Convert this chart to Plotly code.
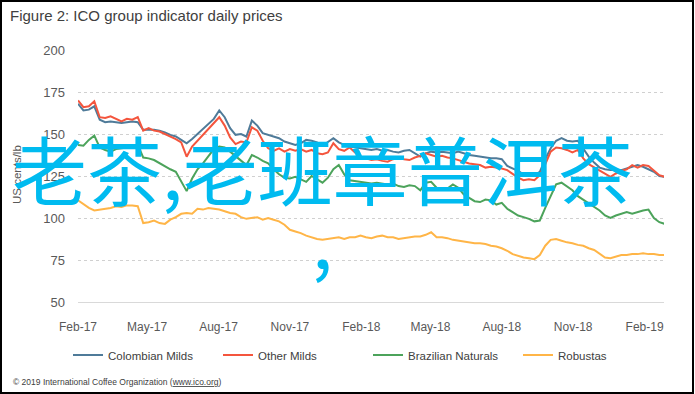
import pandas as pd
import plotly.graph_objects as go

# Weekly sample dates (Feb 2017 - Feb 2019)
dates = pd.date_range("2017-02-01", periods=109, freq="7D")

colombian_milds = [
    168, 164, 164.5, 166.5, 158.5, 157, 157.5, 157, 156.5, 157, 157.5, 157,
    152.5, 152.5, 152.5, 152, 151, 149.5, 148.5, 146.5, 144.5, 147, 150, 153,
    155.5, 159, 164, 160, 153.5, 149.5, 150, 148.5, 158, 155, 150.5, 149.5,
    148.5, 147.5, 145.5, 144.5, 143.5, 144.5, 146.5, 146, 145, 143, 145.5, 147.5,
    145, 143.5, 142.5, 142, 141.5, 141, 140.5, 141, 140, 140.5, 139.5, 139,
    140, 140.5, 138.5, 136.5, 138.5, 139.5, 139, 139.5, 139, 138.5, 139.5, 138.5,
    137.5, 137, 136.5, 136, 135.5, 135.5, 135, 131, 129.5, 128, 126, 125.5,
    125.5, 127.5, 135, 141.5, 146, 147.5, 146, 145.5, 146, 141, 136.5, 133,
    130, 129, 128.5, 128.5, 128.5, 129.5, 130.5, 131.5, 130.5, 129, 127.5, 125,
    124.5,
]

other_milds = [
    170, 166, 166.5, 169.5, 160, 159.5, 160.5, 159, 157.5, 159, 158.5, 160,
    152, 153.5, 152, 151.5, 150, 148.5, 147, 145, 136.5, 142.5, 146, 150,
    153.5, 156.5, 160, 155, 148, 144, 145.5, 145, 154, 152, 146, 141.5,
    140, 141.5, 139.5, 141, 140, 141, 139.5, 140.5, 138.5, 138, 139, 144.5,
    141, 140, 142, 139, 136.5, 135.5, 134.5, 135, 134, 133.5, 135, 136,
    135, 134.5, 136, 137, 138.5, 137.5, 136.5, 137, 136, 135.5, 134.5, 133.5,
    132.5, 132, 131.5, 130, 130.5, 130, 129.5, 128.5, 126, 124, 122.5, 123,
    122.5, 125.5, 132, 139.5, 142, 141.5, 140.5, 139, 140.5, 135.5, 132, 130,
    128.5, 126, 124.5, 126.5, 128, 129, 131.5, 130, 131.5, 131, 128, 125.5,
    124.5,
]

brazilian_naturals = [
    143.5, 143, 146.5, 149, 142, 140.5, 139.5, 141, 141.5, 142, 143, 143.5,
    136, 135.5, 134.5, 132.5, 130.5, 129, 127.5, 122, 116, 123.5, 129, 132.5,
    137, 141, 142.5, 142, 139.5, 137, 134.5, 131.5, 137.5, 136, 134, 132.5,
    129, 126, 124, 123.5, 124.5, 123, 121.5, 125, 123, 121, 124, 129,
    131.5, 126, 122.5, 122, 121.5, 121, 120.5, 121, 120.5, 120, 120.5, 119,
    118.5, 119.5, 119, 116.5, 121, 121.5, 118, 117, 117.5, 120, 118, 114,
    112, 110, 109.5, 111, 110.5, 108, 109, 105.5, 103.5, 101.5, 100.5, 99.5,
    98, 98.5, 106, 113, 120, 121, 119, 116.5, 113, 111, 109, 107,
    104.5, 101.5, 100, 101.5, 102.5, 103.5, 102.5, 103.5, 104.5, 105, 100, 97.5,
    96.5,
]

robustas = [
    110.5, 108, 106, 104.5, 105, 105.5, 106, 107, 106.5, 107.5, 107.5, 107,
    97, 97.5, 98.5, 97, 96.5, 99, 100.5, 102.5, 103, 102.5, 105.5, 105,
    106, 105.5, 105, 104, 103, 102.5, 100.5, 99.5, 100, 100.5, 99, 100,
    99, 98, 96, 93, 92, 91, 89.5, 88.5, 87.5, 87, 87.5, 88,
    88.5, 87.5, 88.5, 88.5, 89.5, 88.5, 88, 89, 89.5, 88.5, 88.5, 87.5,
    88, 88.5, 89, 89, 90, 91.5, 88.5, 88.5, 88, 87, 86.5, 86,
    85.5, 85, 85, 84.5, 83.5, 83, 82, 80.5, 78.5, 77.5, 76.5, 76,
    75.5, 78, 83.5, 87, 87.5, 86.5, 85.5, 85, 84, 83.5, 82, 81,
    79, 76.5, 76, 77, 78, 78, 78.5, 78.5, 79, 78.5, 78.5, 78,
    78,
]

series_names = ["Colombian Milds", "Other Milds", "Brazilian Naturals", "Robustas"]
series_values = [colombian_milds, other_milds, brazilian_naturals, robustas]
series_colors = ["#4F7B99", "#F4553D", "#4CA35B", "#FFB547"]

y_ticks = [50, 75, 100, 125, 150, 175, 200]
x_ticks = pd.date_range("2017-02-01", "2019-02-01", freq="3MS")
x_tick_labels = [d.strftime("%b-%y") for d in x_ticks]

fig = go.Figure()
for name, vals, col in zip(series_names, series_values, series_colors):
    fig.add_trace(go.Scatter(x=dates, y=vals, name=name, mode="lines",
                             line=dict(color=col, width=2)))

# plot area geometry (pixels) for paper-coordinate conversions
L, R, T, B = 78, 664, 50, 302
W, H = R - L, B - T
def px(x):
    return (x - L) / W
def py(y):
    return (B - y) / H

fig.update_layout(
    width=695, height=394,
    margin=dict(l=L, r=695 - R, t=T, b=394 - B),
    paper_bgcolor="white", plot_bgcolor="white",
    font=dict(family="Liberation Sans", color="#595959", size=11),
    showlegend=True,
    legend=dict(orientation="h", x=px(68), xanchor="left", y=py(355), yanchor="middle",
                font=dict(size=11.5, color="#404040"), entrywidth=105,
                bgcolor="rgba(0,0,0,0)"),
    xaxis=dict(range=["2017-02-01", "2019-02-26"], tickvals=x_ticks, ticktext=x_tick_labels,
               showgrid=False, showline=True, linecolor="#D9D9D9", linewidth=1,
               ticks="", ticklabelstandoff=14, tickfont=dict(size=12, color="#595959"),
               zeroline=False, fixedrange=True),
    yaxis=dict(range=[50, 200], tickvals=y_ticks, showgrid=True, gridcolor="#D0D0D0",
               griddash="dot", gridwidth=1, zeroline=False, showline=False, ticks="",
               ticklabelstandoff=12, tickfont=dict(size=13, color="#595959"),
               fixedrange=True),
    shapes=[dict(type="rect", xref="paper", yref="paper",
                 x0=px(1), x1=px(693), y0=py(393), y1=py(1),
                 line=dict(color="black", width=2), fillcolor="rgba(0,0,0,0)", layer="above")],
    annotations=[
        dict(text="Figure 2: ICO group indicator daily prices", xref="paper", yref="paper",
             x=px(8), y=py(15), xanchor="left", yanchor="middle", showarrow=False,
             font=dict(size=15, color="#404040")),
        dict(text="US cents/lb", xref="paper", yref="paper", x=px(17), y=py(175),
             xanchor="center", yanchor="middle", textangle=-90, showarrow=False,
             font=dict(size=11.5, color="#595959")),
        dict(text="© 2019 International Coffee Organization (<u>www.ico.org</u>)",
             xref="paper", yref="paper", x=px(11), y=py(382), xanchor="left",
             yanchor="middle", showarrow=False, font=dict(size=8.5, color="#404040")),
        dict(text="老茶,老班章普洱茶", xref="paper", yref="paper", x=px(322), y=py(167),
             xanchor="center", yanchor="middle", showarrow=False,
             font=dict(family="Noto Sans CJK SC", size=75, color="#00BBF0")),
        dict(text=",", xref="paper", yref="paper", x=px(322), y=py(236),
             xanchor="center", yanchor="middle", showarrow=False,
             font=dict(family="Noto Sans CJK SC", size=75, color="#00BBF0")),
    ],
)

fig.write_html("out.html", config={"displayModeBar": False},
               post_script="document.body.style.margin='0';document.body.style.overflow='hidden';")
